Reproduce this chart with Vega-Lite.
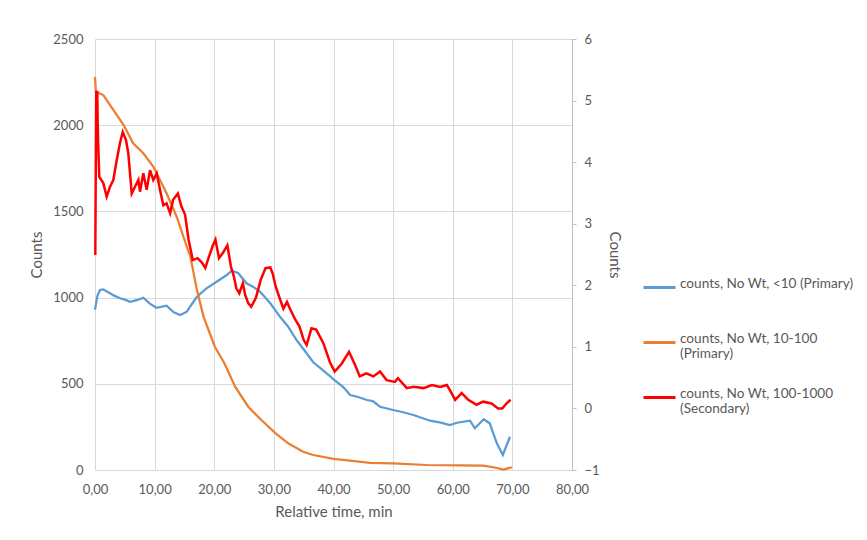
{
  "$schema": "https://vega.github.io/schema/vega-lite/v6.json",
  "width": 477,
  "height": 431,
  "autosize": {"type": "none"},
  "padding": {"left": 95, "top": 39, "right": 295, "bottom": 70},
  "background": "white",
  "datasets": {
    "blue": [
      {"t": 0.0, "v": 930}, {"t": 0.4, "v": 1010}, {"t": 0.84, "v": 1044}, {"t": 1.39, "v": 1048}, {"t": 2.5, "v": 1025},
      {"t": 3.3, "v": 1010}, {"t": 4.2, "v": 996}, {"t": 5.0, "v": 988}, {"t": 5.9, "v": 976}, {"t": 7.0, "v": 985},
      {"t": 8.1, "v": 999}, {"t": 9.2, "v": 965}, {"t": 10.3, "v": 941}, {"t": 12.0, "v": 953}, {"t": 13.2, "v": 915},
      {"t": 14.3, "v": 899}, {"t": 15.4, "v": 918}, {"t": 16.2, "v": 960}, {"t": 17.1, "v": 1005}, {"t": 18.7, "v": 1054},
      {"t": 20.4, "v": 1092}, {"t": 22.1, "v": 1131}, {"t": 22.9, "v": 1156}, {"t": 24.0, "v": 1143}, {"t": 25.4, "v": 1083},
      {"t": 26.5, "v": 1063}, {"t": 27.7, "v": 1034}, {"t": 29.4, "v": 967}, {"t": 31.0, "v": 890}, {"t": 32.4, "v": 831},
      {"t": 33.8, "v": 754}, {"t": 35.2, "v": 690}, {"t": 36.6, "v": 625}, {"t": 38.0, "v": 585}, {"t": 39.4, "v": 545},
      {"t": 40.0, "v": 525}, {"t": 41.6, "v": 483}, {"t": 42.8, "v": 435}, {"t": 44.0, "v": 425}, {"t": 45.6, "v": 406},
      {"t": 46.6, "v": 400}, {"t": 47.8, "v": 367}, {"t": 50.0, "v": 348}, {"t": 51.7, "v": 335}, {"t": 53.4, "v": 319},
      {"t": 56.2, "v": 286}, {"t": 58.0, "v": 275}, {"t": 59.5, "v": 261}, {"t": 60.7, "v": 274}, {"t": 62.9, "v": 286},
      {"t": 63.7, "v": 242}, {"t": 65.2, "v": 294}, {"t": 66.2, "v": 271}, {"t": 67.4, "v": 155}, {"t": 68.4, "v": 87},
      {"t": 69.6, "v": 193}
    ],
    "orange": [
      {"t": 0.0, "v": 2280}, {"t": 0.15, "v": 2194}, {"t": 1.4, "v": 2175}, {"t": 3.1, "v": 2088}, {"t": 4.8, "v": 2001},
      {"t": 6.4, "v": 1895}, {"t": 8.1, "v": 1837}, {"t": 9.8, "v": 1759}, {"t": 12.0, "v": 1605}, {"t": 13.7, "v": 1469},
      {"t": 15.4, "v": 1295}, {"t": 16.0, "v": 1237}, {"t": 17.1, "v": 1044}, {"t": 18.2, "v": 890}, {"t": 20.1, "v": 715},
      {"t": 21.7, "v": 619}, {"t": 23.5, "v": 483}, {"t": 25.7, "v": 367}, {"t": 27.9, "v": 290}, {"t": 30.2, "v": 215},
      {"t": 32.4, "v": 155}, {"t": 34.9, "v": 106}, {"t": 36.6, "v": 87}, {"t": 40.0, "v": 64}, {"t": 42.8, "v": 54},
      {"t": 46.1, "v": 42}, {"t": 50.0, "v": 39}, {"t": 55.6, "v": 29}, {"t": 61.2, "v": 27}, {"t": 65.1, "v": 25},
      {"t": 66.8, "v": 16}, {"t": 68.5, "v": 3}, {"t": 69.9, "v": 16}
    ],
    "red": [
      {"t": 0.05, "v": 2.49}, {"t": 0.2, "v": 5.14}, {"t": 0.38, "v": 5.14}, {"t": 0.45, "v": 4.63}, {"t": 0.55, "v": 4.25},
      {"t": 0.72, "v": 3.76}, {"t": 1.39, "v": 3.66}, {"t": 1.96, "v": 3.44}, {"t": 2.52, "v": 3.6}, {"t": 3.07, "v": 3.71},
      {"t": 3.64, "v": 4.03}, {"t": 4.19, "v": 4.31}, {"t": 4.65, "v": 4.49}, {"t": 5.2, "v": 4.36}, {"t": 5.59, "v": 4.14},
      {"t": 6.16, "v": 3.49}, {"t": 6.71, "v": 3.6}, {"t": 7.27, "v": 3.71}, {"t": 7.55, "v": 3.52}, {"t": 8.1, "v": 3.82},
      {"t": 8.67, "v": 3.55}, {"t": 9.22, "v": 3.87}, {"t": 9.78, "v": 3.71}, {"t": 10.35, "v": 3.82}, {"t": 10.9, "v": 3.55},
      {"t": 11.46, "v": 3.3}, {"t": 12.0, "v": 3.33}, {"t": 12.6, "v": 3.17}, {"t": 13.1, "v": 3.39}, {"t": 13.9, "v": 3.49},
      {"t": 14.5, "v": 3.28}, {"t": 15.1, "v": 3.15}, {"t": 15.7, "v": 2.74}, {"t": 16.4, "v": 2.41}, {"t": 17.2, "v": 2.44},
      {"t": 18.0, "v": 2.36}, {"t": 18.5, "v": 2.28}, {"t": 19.1, "v": 2.46}, {"t": 19.7, "v": 2.63}, {"t": 20.2, "v": 2.74},
      {"t": 20.8, "v": 2.44}, {"t": 21.4, "v": 2.52}, {"t": 22.2, "v": 2.65}, {"t": 22.8, "v": 2.3}, {"t": 23.3, "v": 2.14},
      {"t": 23.7, "v": 1.95}, {"t": 24.2, "v": 1.87}, {"t": 24.8, "v": 2.03}, {"t": 25.2, "v": 1.84}, {"t": 25.7, "v": 1.71},
      {"t": 26.2, "v": 1.65}, {"t": 27.0, "v": 1.8}, {"t": 27.8, "v": 2.09}, {"t": 28.6, "v": 2.28}, {"t": 29.4, "v": 2.29},
      {"t": 29.8, "v": 2.19}, {"t": 30.3, "v": 1.98}, {"t": 30.9, "v": 1.81}, {"t": 31.6, "v": 1.62}, {"t": 32.2, "v": 1.73},
      {"t": 32.7, "v": 1.62}, {"t": 33.6, "v": 1.44}, {"t": 34.3, "v": 1.33}, {"t": 35.0, "v": 1.11}, {"t": 35.5, "v": 1.03},
      {"t": 36.3, "v": 1.3}, {"t": 37.1, "v": 1.28}, {"t": 38.3, "v": 1.06}, {"t": 39.4, "v": 0.75}, {"t": 40.2, "v": 0.6},
      {"t": 41.4, "v": 0.73}, {"t": 42.6, "v": 0.92}, {"t": 43.6, "v": 0.71}, {"t": 44.4, "v": 0.52}, {"t": 45.5, "v": 0.57},
      {"t": 46.7, "v": 0.52}, {"t": 47.8, "v": 0.6}, {"t": 48.9, "v": 0.46}, {"t": 50.3, "v": 0.43}, {"t": 50.8, "v": 0.49},
      {"t": 52.3, "v": 0.33}, {"t": 53.4, "v": 0.35}, {"t": 55.1, "v": 0.33}, {"t": 56.5, "v": 0.38}, {"t": 57.9, "v": 0.35},
      {"t": 59.0, "v": 0.38}, {"t": 59.5, "v": 0.3}, {"t": 60.4, "v": 0.14}, {"t": 61.5, "v": 0.25}, {"t": 62.6, "v": 0.14},
      {"t": 64.0, "v": 0.06}, {"t": 65.1, "v": 0.11}, {"t": 66.5, "v": 0.08}, {"t": 67.6, "v": 0.0}, {"t": 68.3, "v": 0.0},
      {"t": 69.0, "v": 0.08}, {"t": 69.7, "v": 0.14}
    ]
  },
  "config": {
    "view": {"stroke": null},
    "font": "Lato",
    "axis": {
      "labelFont": "Lato", "titleFont": "Lato", "labelFontSize": 13, "titleFontSize": 15,
      "labelColor": "#595959", "titleColor": "#595959", "titleFontWeight": "normal",
      "gridColor": "#d9d9d9", "gridWidth": 1, "domainColor": "#d9d9d9", "ticks": false
    }
  },
  "layer": [
    {
      "layer": [
        {
          "data": {"name": "blue"},
          "mark": {"type": "line", "strokeWidth": 2.25},
          "encoding": {
            "x": {"field": "t", "type": "quantitative", "scale": {"domain": [0, 80], "nice": false},
              "axis": {"values": [0, 10, 20, 30, 40, 50, 60, 70, 80], "title": "Relative time, min", "labelExpr": "replace(format(datum.value, '.2f'), '.', ',')", "labelFlush": false, "labelPadding": 13, "titlePadding": 8, "domainColor": "#d9d9d9"}},
            "y": {"field": "v", "type": "quantitative", "scale": {"domain": [0, 2500], "nice": false},
              "axis": {"values": [0, 500, 1000, 1500, 2000, 2500], "format": "d", "title": "Counts", "domain": false, "labelFlush": false, "labelPadding": 12, "titlePadding": 8}},
            "color": {"datum": "counts, No Wt, <10 (Primary)", "type": "nominal",
              "scale": {"domain": ["counts, No Wt, <10 (Primary)", "counts, No Wt, 10-100 (Primary)", "counts, No Wt, 100-1000 (Secondary)"], "range": ["#5B9BD5", "#ED7D31", "#FF0000"]},
              "legend": {"orient": "none", "legendX": 547, "legendY": 231, "title": null, "padding": 0,
                "symbolType": "stroke", "symbolSize": 1024, "symbolStrokeWidth": 3,
                "labelFont": "Lato", "labelFontSize": 13.6, "labelColor": "#595959", "labelLimit": 300, "labelOffset": 3,
                "gridAlign": "all", "rowPadding": 19, "labelBaseline": "alphabetic",
                "labelExpr": "datum.label == 'counts, No Wt, 10-100 (Primary)' ? ['counts, No Wt, 10-100', '(Primary)'] : datum.label == 'counts, No Wt, 100-1000 (Secondary)' ? ['counts, No Wt, 100-1000', '(Secondary)'] : datum.label"}}
          }
        },
        {
          "data": {"name": "orange"},
          "mark": {"type": "line", "strokeWidth": 2.25},
          "encoding": {
            "x": {"field": "t", "type": "quantitative"},
            "y": {"field": "v", "type": "quantitative"},
            "color": {"datum": "counts, No Wt, 10-100 (Primary)", "type": "nominal"}
          }
        }
      ]
    },
    {
      "data": {"name": "red"},
      "mark": {"type": "line", "strokeWidth": 2.5},
      "encoding": {
        "x": {"field": "t", "type": "quantitative"},
        "y": {"field": "v", "type": "quantitative", "scale": {"domain": [-1, 6], "nice": false},
          "axis": {"orient": "right", "values": [-1, 0, 1, 2, 3, 4, 5, 6], "title": "Counts", "grid": false, "domain": true, "domainColor": "#bfbfbf", "ticks": true, "tickSize": 4, "tickColor": "#bfbfbf", "labelFlush": false, "labelPadding": 8, "titlePadding": 7}},
        "color": {"datum": "counts, No Wt, 100-1000 (Secondary)", "type": "nominal"}
      }
    }
  ],
  "resolve": {"scale": {"y": "independent"}}
}
